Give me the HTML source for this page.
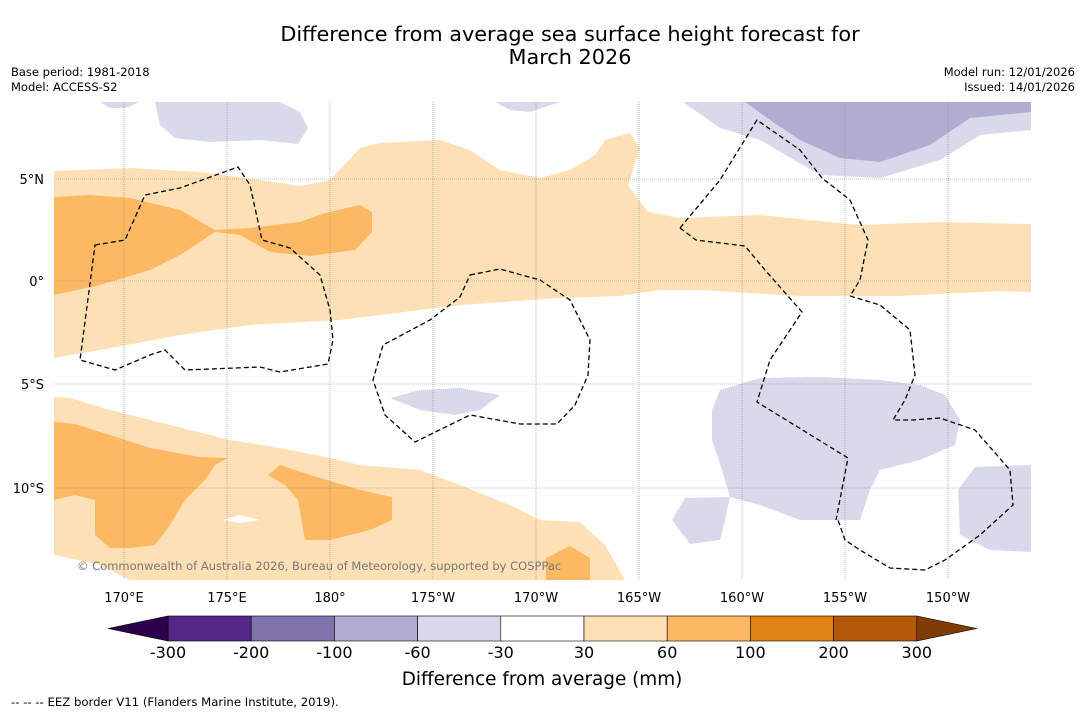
<!DOCTYPE html>
<html><head><meta charset="utf-8"><style>
body{margin:0;background:#fff;width:1085px;height:713px;overflow:hidden;font-family:"DejaVu Sans",sans-serif}
svg{display:block}
</style></head><body>
<svg width="1085" height="713" font-family="DejaVu Sans, sans-serif">
<text x="570" y="41" font-size="20.8" text-anchor="middle">Difference from average sea surface height forecast for</text>
<text x="570" y="64" font-size="20.8" text-anchor="middle">March 2026</text>
<text x="11" y="76" font-size="11.5">Base period: 1981-2018</text>
<text x="11" y="91" font-size="11.5">Model: ACCESS-S2</text>
<text x="1075" y="76" font-size="11.5" text-anchor="end">Model run: 12/01/2026</text>
<text x="1075" y="91" font-size="11.5" text-anchor="end">Issued: 14/01/2026</text>
<defs><clipPath id="mc"><rect x="54" y="102" width="977" height="478"/></clipPath></defs>
<g clip-path="url(#mc)">
<rect x="54" y="102" width="977" height="478" fill="#fff"/>
<g fill="#fee0b6">
<path d="M54,171 L130,168 200,172 260,180 300,186 330,180 360,148 380,143 440,140 470,150 500,170 540,178 570,170 595,155 605,140 630,133 640,148 628,185 648,212 680,218 760,215 860,225 940,222 1031,224 1031,292 1000,291 900,296 800,296 700,290 660,290 620,296 560,298 460,305 340,320 250,325 180,335 100,350 54,358Z"/>
<path d="M54,397 L70,398 110,410 170,425 230,440 280,448 330,458 360,465 420,470 460,485 510,505 540,520 580,522 605,545 625,580 130,580 100,565 54,555Z"/>
</g>
<g fill="#fdb863">
<path d="M54,197 L90,195 130,198 180,210 215,230 250,228 300,222 325,213 360,205 372,212 372,232 355,250 310,256 270,252 240,235 215,232 180,255 150,270 100,285 54,295Z"/>
<path d="M54,422 L75,424 110,435 150,448 200,457 228,458 215,465 205,480 185,500 170,525 155,545 130,548 110,548 95,535 95,500 75,495 54,500Z"/>
<path d="M268,475 L280,465 310,475 360,490 392,497 392,520 370,530 330,540 305,540 298,500 285,485Z"/>
<path d="M546,558 L570,546 590,558 590,580 546,580Z"/>
</g>
<path d="M222,520 L240,515 260,520 240,523Z" fill="#fff"/>
<g fill="#d8daeb">
<path d="M155,102 L280,102 300,112 308,128 298,144 260,140 210,142 175,138 160,125Z"/>
<path d="M100,102 L140,102 125,108 110,108Z"/>
<path d="M495,102 L560,102 530,112 510,110Z"/>
<path d="M683,102 L1031,102 1031,130 980,135 940,160 880,178 820,175 760,140 720,128Z"/>
<path d="M390,398 L420,390 460,388 500,395 480,410 455,415 420,410Z"/>
<path d="M712,410 L720,390 760,378 820,377 880,380 920,385 945,395 960,420 955,445 920,460 880,470 870,490 860,520 800,520 760,505 730,497 722,470 712,440Z"/>
<path d="M672,520 L685,498 730,497 725,520 720,540 690,544Z"/>
<path d="M958,490 L975,467 1031,465 1031,552 990,550 960,535Z"/>
</g>
<path d="M745,102 L1031,102 1031,112 970,118 930,145 880,162 840,158 800,140 770,120Z" fill="#b2abd2"/>
<g stroke="#888" stroke-width="0.6" stroke-dasharray="1,1">
<line x1="124" y1="102" x2="124" y2="580"/><line x1="227" y1="102" x2="227" y2="580"/><line x1="330" y1="102" x2="330" y2="580"/><line x1="433" y1="102" x2="433" y2="580"/><line x1="536" y1="102" x2="536" y2="580"/><line x1="639" y1="102" x2="639" y2="580"/><line x1="742" y1="102" x2="742" y2="580"/><line x1="845" y1="102" x2="845" y2="580"/><line x1="948" y1="102" x2="948" y2="580"/>
<line x1="54" y1="179" x2="1031" y2="179"/><line x1="54" y1="281" x2="1031" y2="281"/><line x1="54" y1="384" x2="1031" y2="384"/><line x1="54" y1="488" x2="1031" y2="488"/>
</g>
<g fill="none" stroke="#000" stroke-width="1.3" stroke-dasharray="5,3">
<path d="M95,245 L125,240 145,195 180,188 238,167 250,185 262,240 290,248 320,275 330,310 333,340 328,364 280,372 260,367 185,370 165,350 150,355 115,370 80,360Z"/>
<path d="M470,275 L500,269 540,280 570,300 590,340 588,375 575,405 557,424 520,424 470,415 415,442 385,415 373,380 383,345 430,320 460,297Z"/>
<path d="M680,228 L720,180 757,120 800,150 822,178 850,200 868,240 860,280 850,296"/>
<path d="M680,228 L696,240 745,246 765,270 802,312 770,360 757,402 848,458 836,520"/>
<path d="M850,296 L880,305 910,330 915,375 905,400 893,420 912,420 940,418 975,430 1010,470 1013,505 980,535 945,560 925,570 890,568 860,550 845,540 838,520"/>
</g>
<text x="77" y="570" font-size="11.5" fill="#777">© Commonwealth of Australia 2026, Bureau of Meteorology, supported by COSPPac</text>
</g>
<g font-size="13">
<text x="124" y="602" text-anchor="middle">170°E</text><text x="227" y="602" text-anchor="middle">175°E</text><text x="330" y="602" text-anchor="middle">180°</text><text x="433" y="602" text-anchor="middle">175°W</text><text x="536" y="602" text-anchor="middle">170°W</text><text x="639" y="602" text-anchor="middle">165°W</text><text x="742" y="602" text-anchor="middle">160°W</text><text x="845" y="602" text-anchor="middle">155°W</text><text x="948" y="602" text-anchor="middle">150°W</text>
<text x="44" y="184" text-anchor="end">5°N</text><text x="44" y="286" text-anchor="end">0°</text><text x="44" y="389" text-anchor="end">5°S</text><text x="44" y="493" text-anchor="end">10°S</text>
</g>
<g id="cbar"></g>
<text x="542" y="685" font-size="18.4" text-anchor="middle">Difference from average (mm)</text>
<text x="11" y="706" font-size="11.7">--  --  -- EEZ border V11 (Flanders Marine Institute, 2019).</text>
</svg>
<script>
const levels=[-300,-200,-100,-60,-30,30,60,100,200,300];
const binColors=["#542788","#8073ac","#b2abd2","#d8daeb","#ffffff","#fee0b6","#fdb863","#e08214","#b35806"];
const extColors=["#2d004b","#7f3b08"];
const g=document.getElementById('cbar');
const NS='http://www.w3.org/2000/svg';
const x0=168,w=83.2,y0=616,h=25;
function xAt(i){return x0+i*w;}
binColors.forEach((c,i)=>{
 const r=document.createElementNS(NS,'rect');
 r.setAttribute('x',xAt(i));r.setAttribute('y',y0);r.setAttribute('width',w);r.setAttribute('height',h);
 r.setAttribute('fill',c);r.setAttribute('stroke','#000');r.setAttribute('stroke-width','0.6');
 
 
 g.appendChild(r);
});
const L=document.createElementNS(NS,'polygon');
L.setAttribute('points',`${xAt(0)},${y0} ${xAt(0)},${y0+h} 108,${y0+h/2}`);L.setAttribute('fill',extColors[0]);L.setAttribute('stroke','#000');L.setAttribute('stroke-width','0.6');


g.appendChild(L);
const n=binColors.length;
const R=document.createElementNS(NS,'polygon');
R.setAttribute('points',`${xAt(n)},${y0} ${xAt(n)},${y0+h} 977,${y0+h/2}`);R.setAttribute('fill',extColors[1]);R.setAttribute('stroke','#000');R.setAttribute('stroke-width','0.6');


g.appendChild(R);
levels.forEach((v,i)=>{
 const t=document.createElementNS(NS,'text');
 t.setAttribute('x',xAt(i));t.setAttribute('y',658);t.setAttribute('font-size','16');t.setAttribute('text-anchor','middle');
 t.textContent=String(v);
 
 
 g.appendChild(t);
});
</script>
</body></html>
